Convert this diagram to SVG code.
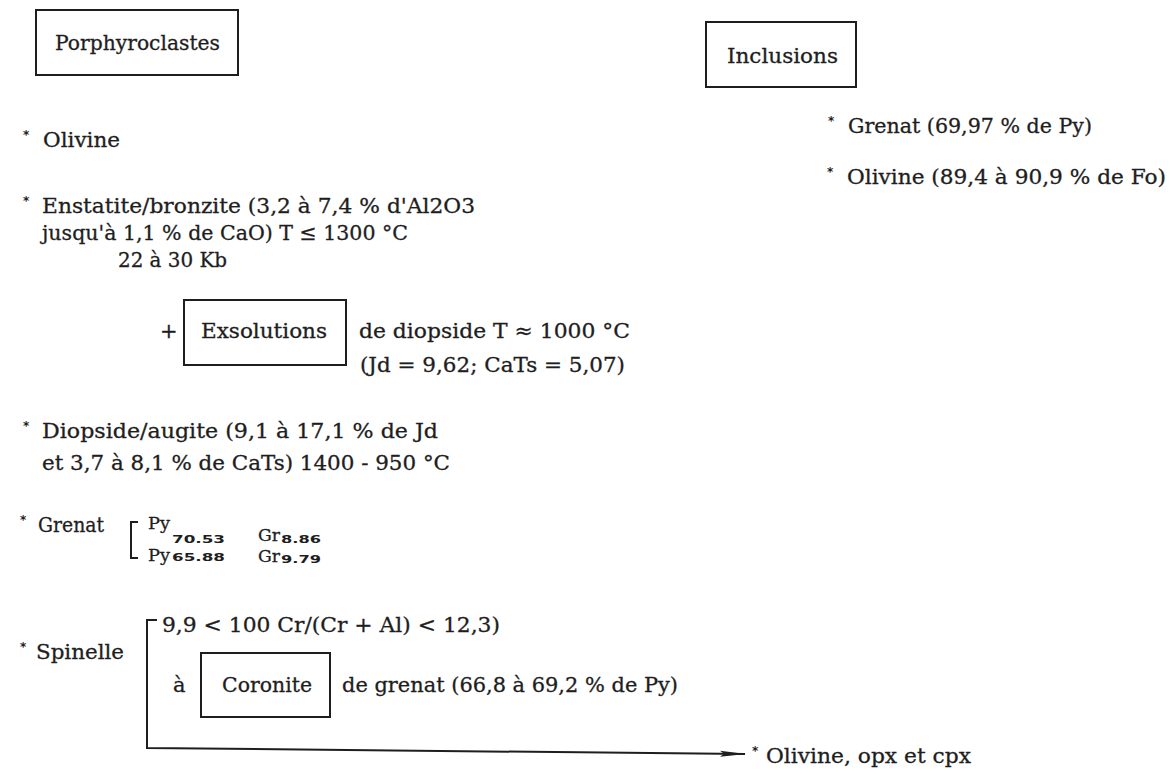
<svg xmlns="http://www.w3.org/2000/svg" width="1174" height="774" viewBox="0 0 1174 774">
<style>
text{font-family:"DejaVu Serif","Liberation Serif",serif;font-size:21px;fill:#1e1e1e;stroke:#1e1e1e;stroke-width:0.3}
.st{font-family:"DejaVu Sans","Liberation Sans",sans-serif;font-size:12px;font-weight:bold;stroke:none}
.s{font-family:"DejaVu Sans","Liberation Sans",sans-serif;font-size:11px;font-weight:bold;stroke:none}
.m{font-size:17px}
.box{fill:none;stroke:#1e1e1e;stroke-width:2}
.ln{fill:none;stroke:#1e1e1e;stroke-width:2}
</style>
<defs>
<marker id="ah" markerWidth="26" markerHeight="8" refX="25" refY="4" orient="auto" markerUnits="userSpaceOnUse">
<path d="M0,1 L26,4 L0,7 L4,4 Z" fill="#1e1e1e"/>
</marker>
</defs>
<rect width="1174" height="774" fill="#fff"/>
<g id="porphyroclastes"><rect class="box" x="36" y="10" width="202" height="65"/><text x="55" y="50" textLength="165" lengthAdjust="spacingAndGlyphs">Porphyroclastes</text></g>
<g id="inclusions"><rect class="box" x="706" y="22" width="150" height="65"/><text x="727" y="63" textLength="111" lengthAdjust="spacingAndGlyphs">Inclusions</text></g>
<g id="olivine"><text class="st" x="23" y="139">*</text><text x="43" y="147" textLength="77" lengthAdjust="spacingAndGlyphs">Olivine</text></g>
<g id="enstatite">
<text class="st" x="23" y="205">*</text>
<text x="42" y="213" textLength="433" lengthAdjust="spacingAndGlyphs">Enstatite/bronzite (3,2 à 7,4 % d'Al2O3</text>
<text x="42" y="240" textLength="366" lengthAdjust="spacingAndGlyphs">jusqu'à 1,1 % de CaO) T ≤ 1300 °C</text>
<text x="118" y="267" textLength="109" lengthAdjust="spacingAndGlyphs">22 à 30 Kb</text>
</g>
<g id="exsolutions">
<text x="160" y="338">+</text>
<rect class="box" x="184" y="300" width="162" height="65"/>
<text x="201" y="338" textLength="126" lengthAdjust="spacingAndGlyphs">Exsolutions</text>
<text x="359" y="338" textLength="271" lengthAdjust="spacingAndGlyphs">de diopside  T ≈ 1000 °C</text>
<text x="360" y="372" textLength="265" lengthAdjust="spacingAndGlyphs">(Jd = 9,62; CaTs = 5,07)</text>
</g>
<g id="diopside">
<text class="st" x="23" y="430">*</text>
<text x="42" y="438" textLength="396" lengthAdjust="spacingAndGlyphs">Diopside/augite  (9,1 à 17,1 % de Jd</text>
<text x="42" y="470" textLength="408" lengthAdjust="spacingAndGlyphs">et 3,7 à 8,1 % de CaTs) 1400 - 950 °C</text>
</g>
<g id="grenat">
<text class="st" x="20" y="524">*</text>
<text x="38" y="532" textLength="66" lengthAdjust="spacingAndGlyphs">Grenat</text>
<path class="ln" d="M138,522 L131,522 L131,558 L138,558"/>
<text class="m" x="148" y="529" textLength="22" lengthAdjust="spacingAndGlyphs">Py</text><text class="s" x="172" y="543" textLength="53" lengthAdjust="spacingAndGlyphs">70.53</text>
<text class="m" x="258" y="541" textLength="22" lengthAdjust="spacingAndGlyphs">Gr</text><text class="s" x="281" y="543" textLength="40" lengthAdjust="spacingAndGlyphs">8.86</text>
<text class="m" x="148" y="561" textLength="22" lengthAdjust="spacingAndGlyphs">Py</text><text class="s" x="172" y="561" textLength="53" lengthAdjust="spacingAndGlyphs">65.88</text>
<text class="m" x="258" y="562" textLength="22" lengthAdjust="spacingAndGlyphs">Gr</text><text class="s" x="281" y="563" textLength="40" lengthAdjust="spacingAndGlyphs">9.79</text>
</g>
<g id="spinelle">
<text class="st" x="20" y="651">*</text>
<text x="36" y="659" textLength="88" lengthAdjust="spacingAndGlyphs">Spinelle</text>
<text x="162" y="632" textLength="338" lengthAdjust="spacingAndGlyphs">9,9 &lt; 100 Cr/(Cr + Al) &lt; 12,3)</text>
<text x="173" y="692">à</text>
</g>
<g id="coronite">
<rect class="box" x="201" y="653" width="129" height="64"/>
<text x="222" y="692" textLength="90" lengthAdjust="spacingAndGlyphs">Coronite</text>
<text x="342" y="692" textLength="336" lengthAdjust="spacingAndGlyphs">de grenat (66,8 à 69,2 % de Py)</text>
</g>
<g id="olivine-opx-cpx"><text class="st" x="752" y="755">*</text><text x="766" y="763" textLength="205" lengthAdjust="spacingAndGlyphs">Olivine, opx et cpx</text></g>
<g id="inc-grenat"><text class="st" x="828" y="125">*</text><text x="848" y="133" textLength="244" lengthAdjust="spacingAndGlyphs">Grenat (69,97 % de Py)</text></g>
<g id="inc-olivine"><text class="st" x="827" y="176">*</text><text x="847" y="184" textLength="319" lengthAdjust="spacingAndGlyphs">Olivine (89,4 à 90,9 % de Fo)</text></g>
<g id="connectors">
<path class="ln" d="M157,620 L147,620 L147,748 L745,754" marker-end="url(#ah)"/>
</g>
</svg>
